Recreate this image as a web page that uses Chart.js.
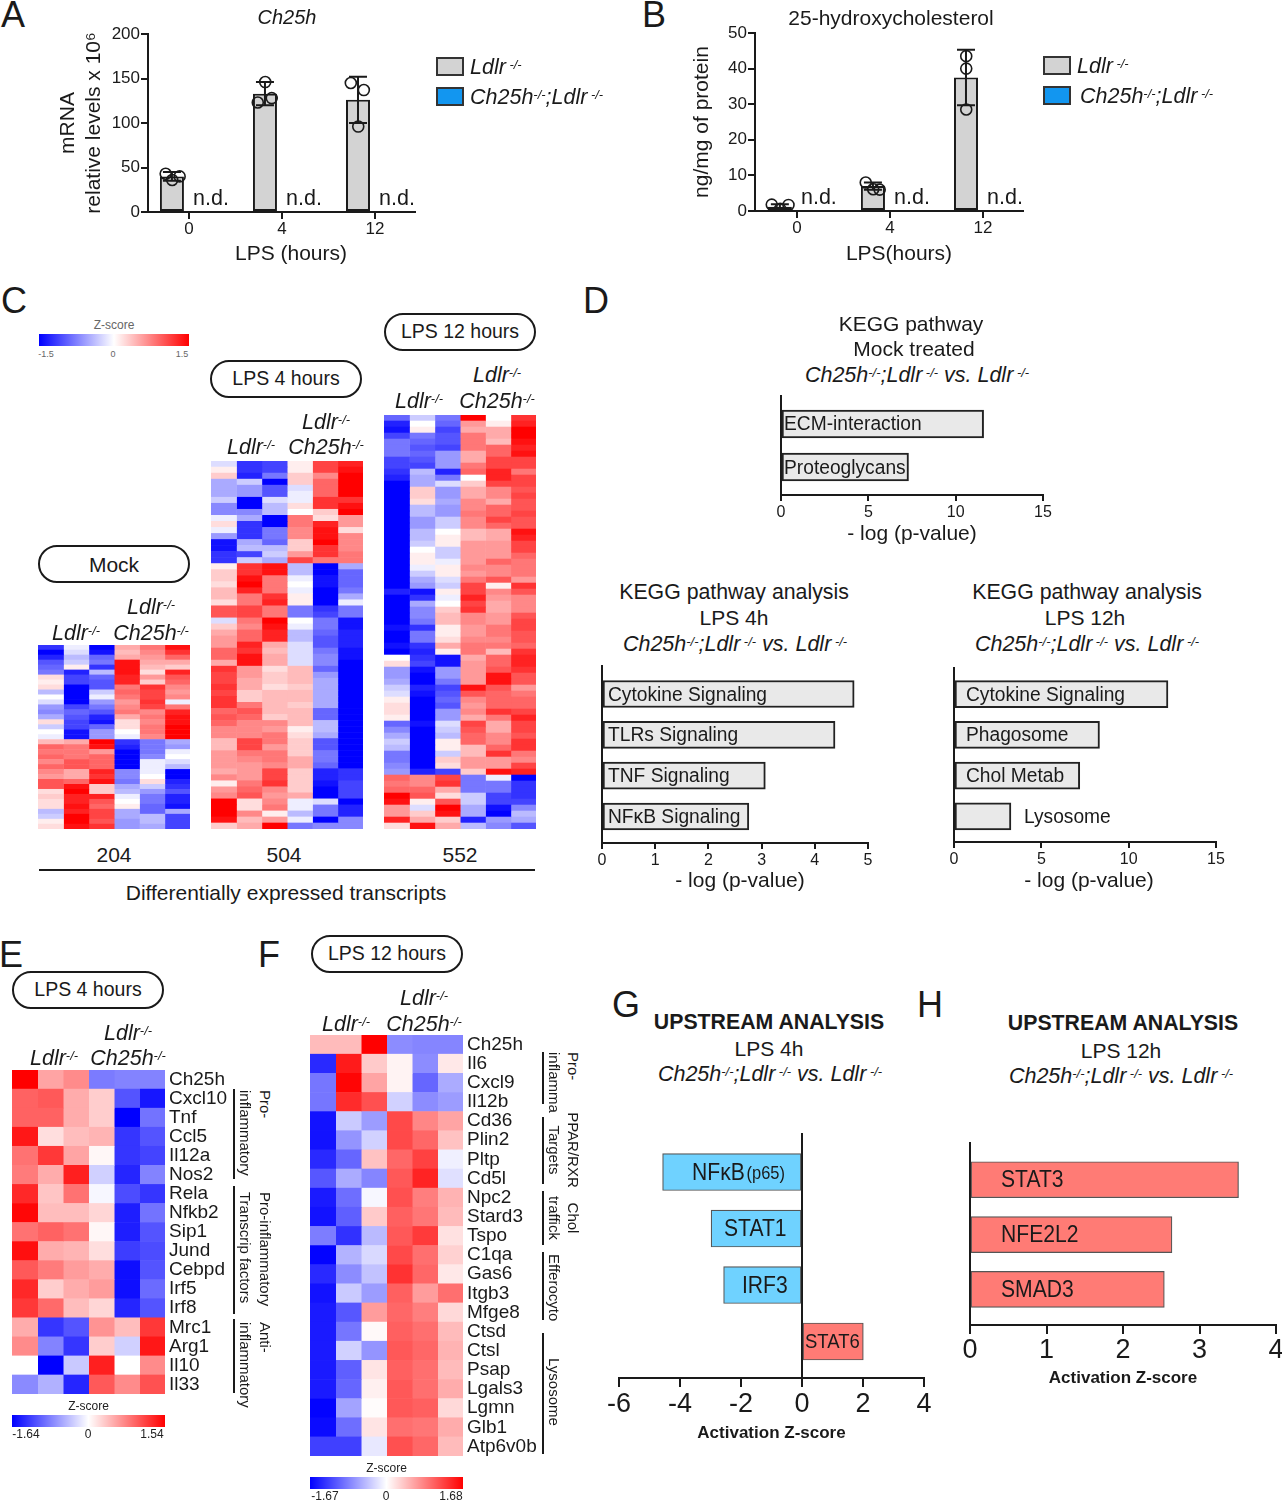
<!DOCTYPE html>
<html><head><meta charset="utf-8">
<script src="https://cdn.jsdelivr.net/npm/chart.js@4"></script>
<style>
html,body{margin:0;padding:0;background:#fff}
#page{position:relative;width:1282px;height:1500px;overflow:hidden;background:#fff;font-family:"Liberation Sans",Arial,sans-serif;color:#1a1a1a}
#page canvas{position:absolute}
.t{position:absolute;white-space:nowrap;line-height:1;transform:translate(-50%,-50%)}
.t i{position:relative;top:2px}
.l{transform:translate(0,-50%)}
.v{position:absolute;white-space:nowrap;line-height:1;writing-mode:vertical-rl;transform:translateX(-50%)}
.vc{transform:translate(-50%,-50%)}
.s{font-size:.6em;vertical-align:.42em;font-style:italic;line-height:0}
.pill{position:absolute;box-sizing:border-box;border:2px solid #1a1a1a;border-radius:20px;width:152px;height:38px}
.box{position:absolute;box-sizing:border-box;border:2px solid #333}
.rule{position:absolute;background:#1a1a1a}
</style></head><body><div id="page"></div>
<script>
/* ---------- panel A / B ---------- */
const timeLabels=['0','4','12'];
const seriesNames=['Ldlr -/-','Ch25h-/-;Ldlr -/-'];
const chMean=[40,133,126];
const chSd=[5,13,26];
const chNd=[0,0,0];
const chDotsX=[-0.25,-0.1,-0.18,0.82,0.74,0.89,1.74,1.88,1.82];
const chDotsY=[43,40,36,146,123,128,145,137,96];
const ohcMean=[1.2,7,37.5];
const ohcSd=[0.7,1,7.8];
const ohcNd=[0,0,0];
const ohcDotsX=[-0.27,-0.09,-0.18,0.74,0.82,0.89,1.82,1.82,1.82];
const ohcDotsY=[1.8,1.7,0.6,8,6.1,6,43.5,40,28.5];
/* ---------- panel C (z-score x 10, one row per band, columns = 3 Ldlr, 3 Ldlr;Ch25h) ---------- */
const mockRows=[[-12,-1,-15,5,8,14],[-15,-2,-14,4,7,12],[-13,-4,-9,5,6,9],[-10,-3,-8,14,5,5],[-9,1,-12,14,4,3],[-8,-13,-4,14,2,13],[2,-11,-9,13,6,10],[1,-11,-10,13,3,9],[2,-15,-10,8,12,7],[-4,-15,-3,9,11,6],[0,-15,-1,8,11,7],[-2,-15,-6,6,12,-1],[-6,-11,-8,7,11,8],[-7,-9,-10,8,7,13],[-5,-10,-13,5,8,14],[2,-11,-14,2,7,14],[-3,-11,-9,2,8,15],[0,-14,-6,0,8,15],[-1,-14,-6,-1,7,15],[4,5,15,-12,-8,-5],[9,8,14,-13,-8,-6],[8,8,6,-15,-8,-1],[9,8,9,-15,-7,0],[7,10,9,-15,-1,-2],[9,10,9,-15,-1,-4],[7,5,13,-7,-1,-15],[6,5,12,-7,0,-15],[10,9,14,-8,2,-13],[10,14,3,-5,-3,-12],[2,15,3,-4,-6,-10],[3,13,13,-1,-8,-13],[2,13,10,0,-8,-13],[2,14,9,1,-9,-14],[-4,13,11,-5,-9,-5],[-3,15,11,-5,-4,-11],[1,15,10,-6,-4,-11],[2,14,12,-6,-5,-11]];
const lps4Rows=[[-2,-12,-11,1,11,13],[1,-12,-11,1,11,14],[3,-13,-8,3,7,15],[-5,-3,-15,3,9,15],[-5,-6,-10,-2,9,15],[-5,-6,-10,-1,9,15],[-3,-15,-2,-1,12,12],[-7,-15,-4,2,12,14],[-7,-7,-4,0,3,15],[-1,-5,-15,8,2,6],[2,-12,-15,8,13,6],[-1,-12,-8,7,14,2],[-6,-12,-8,7,14,7],[-14,-5,-9,3,15,7],[-14,-4,-4,3,12,7],[-12,-11,-3,6,12,8],[-12,-3,-5,11,8,8],[1,12,14,-4,-15,-5],[3,12,14,-4,-15,-9],[3,14,8,-1,-14,-9],[2,15,8,0,-14,-9],[4,13,8,-1,-15,-8],[4,8,12,1,-15,-5],[2,8,13,1,-15,-1],[10,11,8,-8,-12,-8],[10,11,8,-8,-11,-8],[-2,8,15,0,-8,-14],[3,7,14,-1,-8,-14],[5,9,13,-4,-9,-13],[6,9,13,-4,-10,-13],[6,13,5,-2,-10,-13],[9,12,4,-2,-8,-14],[9,14,5,-2,-7,-14],[5,14,5,-2,-7,-15],[12,6,2,4,-9,-15],[11,6,3,4,-6,-15],[11,5,3,4,-5,-15],[12,5,2,3,-5,-15],[11,3,4,4,-5,-15],[12,3,4,4,-5,-15],[12,8,4,3,-5,-15],[9,10,4,4,-9,-15],[10,9,3,4,-9,-15],[9,7,7,4,-4,-15],[7,7,6,1,-4,-15],[7,7,8,2,-5,-15],[4,11,8,3,-10,-15],[4,11,6,3,-10,-15],[6,8,8,3,-8,-15],[6,7,8,5,-8,-15],[6,6,7,5,-9,-15],[5,6,11,3,-13,-12],[7,6,11,3,-13,-12],[1,8,12,3,-14,-11],[6,9,7,3,-15,-11],[7,10,6,5,-15,-11],[15,2,7,-1,-2,-15],[15,2,8,-1,-8,-13],[15,7,1,-4,-8,-13],[14,4,6,-1,-15,-7],[3,5,15,-8,-7,-7]];
const lps12Rows=[[-9,-3,-8,15,0,12],[-13,0,-9,6,1,13],[-14,1,-11,5,5,15],[-11,-8,-10,8,5,15],[-8,-9,-10,8,4,14],[-8,-10,-11,8,9,13],[-8,-9,-6,5,9,14],[-11,-10,-6,5,11,11],[-11,-11,-6,8,11,11],[-12,-4,-13,9,13,8],[-13,-5,-8,0,13,11],[-15,-5,-2,3,11,11],[-15,3,-6,5,7,10],[-15,3,-6,5,7,11],[-15,2,-5,7,5,10],[-15,-4,-6,7,9,10],[-15,-4,-6,8,9,11],[-15,-6,-3,7,11,10],[-15,-6,-3,7,9,10],[-15,-4,0,4,5,14],[-15,-4,1,4,5,13],[-15,-3,1,6,6,11],[-15,0,-3,6,6,11],[-15,1,-3,6,6,9],[-15,1,-1,6,9,8],[-15,-1,1,7,7,8],[-15,-3,1,6,7,8],[-15,-5,-2,8,10,6],[-15,-6,-3,11,1,12],[-13,-14,1,11,7,10],[-15,-12,-1,13,6,7],[-15,-5,0,11,5,7],[-15,-7,3,12,5,7],[-15,-7,4,7,6,10],[-15,-8,4,7,6,11],[-14,-12,1,6,8,11],[-15,-8,1,6,8,10],[-15,-8,2,7,7,10],[-14,-12,5,8,8,9],[-15,-13,1,8,4,12],[0,-12,-14,5,9,13],[2,-11,-14,6,9,13],[-6,-14,-6,6,10,12],[-6,-15,-6,6,14,10],[-5,-15,-8,6,14,10],[-3,-13,-11,14,10,6],[-2,-14,-10,10,9,8],[1,-15,-9,7,9,9],[2,-15,-10,6,9,9],[2,-15,-6,7,12,11],[1,-15,-6,5,8,13],[-9,-14,-2,11,5,11],[-7,-15,-3,10,5,11],[-5,-15,-4,9,7,10],[-3,-15,1,9,7,12],[-4,-15,1,4,9,12],[-8,-15,-3,4,12,8],[-8,-15,3,6,6,7],[-7,-15,2,6,6,11],[-6,-13,-11,3,14,13],[9,7,11,-8,-1,-15],[8,7,12,-8,-8,-12],[9,9,5,-8,-8,-12],[15,10,2,-3,-11,-12],[14,1,10,-3,-11,-11],[6,-2,15,-5,-14,-7],[6,3,14,-5,-15,-4],[13,5,3,-13,-6,-5],[2,14,5,-4,-7,-10]];
/* ---------- panel D ---------- */
const keggMockLabels=['ECM-interaction','Proteoglycans'];
const keggMockValues=[11.6,7.3];
const kegg4Labels=['Cytokine Signaling','TLRs Signaling','TNF Signaling','NFκB Signaling'];
const kegg4Values=[4.74,4.38,3.07,2.76];
const kegg12Labels=['Cytokine Signaling','Phagosome','Chol Metab','Lysosome'];
const kegg12Values=[12.25,8.33,7.2,3.26];
/* ---------- panel E ---------- */
const genesE=['Ch25h','Cxcl10','Tnf','Ccl5','Il12a','Nos2','Rela','Nfkb2','Sip1','Jund','Cebpd','Irf5','Irf8','Mrc1','Arg1','Il10','Il33'];
const heatE=[[1.54,.55,.7,-.85,-.8,-.8],[.95,1,.5,.3,-1.1,-1.5],[.95,.95,.5,.3,-1.64,-.9],[1.4,.2,.4,.45,-1.3,-1.1],[.85,1.2,.55,.05,-1.3,-1.2],[.8,.5,1.35,-.3,-1.4,-.8],[1.3,.35,.85,-.05,-1.15,-1.3],[1.5,.4,.4,.25,-1.45,-.9],[.85,.95,.85,.05,-1.45,-1.1],[1.45,.5,.45,.2,-1.25,-1.15],[1,.8,.6,.5,-1.55,-1.1],[1.3,.3,.5,.6,-1.55,-.95],[1.2,.9,.4,.25,-1.4,-1.1],[.5,-1.3,-1.1,.65,.4,1.2],[.7,-.8,-1.3,.3,-.3,1.4],[0,-1.64,-.35,1.35,0,.7],[-.75,-.5,-1.4,1,.7,1.05]];
/* ---------- panel F ---------- */
const genesF=['Ch25h','Il6','Cxcl9','Il12b','Cd36','Plin2','Pltp','Cd5l','Npc2','Stard3','Tspo','C1qa','Gas6','Itgb3','Mfge8','Ctsd','Ctsl','Psap','Lgals3','Lgmn','Glb1','Atp6v0b'];
const heatF=[[.45,.45,1.68,-.75,-.8,-.8],[-1.4,1.5,.35,.08,-.75,.15],[-.9,1.65,.6,.08,-1,-.55],[-.9,1.4,1.15,-.3,-.75,-.65],[-1.55,-.35,-.65,1.2,.8,.6],[-1.55,-.7,-.3,1.2,1,.4],[-1.4,-1,.4,1,1.25,-.1],[-1.1,-.55,-.8,1.1,1.45,-.2],[-1.5,-.95,-.05,1.15,.85,.5],[-1.55,-1.05,.35,1.05,.9,.45],[-.85,-1.35,-.45,1.1,1.3,.2],[-1.65,-.5,-.25,1.2,.95,.3],[-1.4,-.75,-.4,1.35,1,.15],[-1.55,-.35,-.65,1.05,.65,.95],[-1.5,-1.1,.65,1,.85,.25],[-1.5,-.9,.04,1.05,.95,.45],[-1.5,-.3,-.7,1.1,1,.5],[-1.5,-1.05,.18,1.05,.95,.45],[-1.5,-1,.1,1.1,.95,.55],[-1.65,-.6,.02,1.1,1.05,.25],[-1.6,-.95,.18,.95,.9,.55],[-1.25,-1.25,-.15,1.15,1,.45]];
/* ---------- panels G / H ---------- */
const upstream4Labels=['NFκB|(p65)','STAT1','IRF3','STAT6'];
const upstream4Values=[-4.57,-2.98,-2.57,2.01];
const upstream12Labels=['STAT3','NFE2L2','SMAD3'];
const upstream12Values=[3.51,2.64,2.54];

const FONT='"Liberation Sans",Arial,sans-serif';
const INK='#1a1a1a';
const page=document.getElementById('page');
Chart.defaults.font.family=FONT;
Chart.defaults.color=INK;
Chart.defaults.animation=false;

function txt(x,y,html,size,o={}){
  const d=document.createElement('div');
  d.className='t'+(o.left?' l':'');
  d.style.cssText+=`left:${x}px;top:${y}px;font-size:${size}px;`+(o.bold?'font-weight:bold;':'')+(o.italic?'font-style:italic;':'')+(o.color?`color:${o.color};`:'');
  d.innerHTML=html;page.appendChild(d);return d;
}
function vtxt(x,y,html,size,center){
  const d=document.createElement('div');
  d.className='v'+(center?' vc':'');
  d.style.cssText+=`left:${x}px;top:${y}px;font-size:${size}px;`;
  d.textContent=html;page.appendChild(d);
}
function rule(x,y,w,h){const d=document.createElement('div');d.className='rule';d.style.cssText+=`left:${x}px;top:${y}px;width:${w}px;height:${h}px;`;page.appendChild(d);}
function pill(x,y,label,size){const d=document.createElement('div');d.className='pill';d.style.cssText+=`left:${x}px;top:${y}px;`;page.appendChild(d);txt(x+76,y+19,label,size||19.5);}
function canvasFor(r,p){
  const c=document.createElement('canvas');
  const w=r.r-r.l+p.l+p.r,h=r.b-r.t+p.t+p.b;
  c.width=w;c.height=h;c.style.cssText=`left:${r.l-p.l}px;top:${r.t-p.t}px;width:${w}px;height:${h}px;`;
  page.appendChild(c);return c;
}
const LDLR='<i>Ldlr<span class="s"> -/-</span></i>';
const CHDL='<i>Ch25h<span class="s">-/-</span>;Ldlr<span class="s"> -/-</span></i>';
const VS='<i>Ch25h<span class="s">-/-</span>;Ldlr<span class="s"> -/-</span> vs. Ldlr<span class="s"> -/-</span></i>';
const LD='<i>Ldlr<span class="s">-/-</span></i>';
const CH='<i>Ch25h<span class="s">-/-</span></i>';

/* vertical bar panels A, B */
function groupPanel(r,cfg){
  const pad={l:cfg.padL,t:12,r:40,b:60};
  const cv=canvasFor(r,pad);
  const lh=cfg.yLh;
  const errors={id:'err',afterDatasetsDraw(ch){
    const m=ch.getDatasetMeta(0),y=ch.scales.y,c=ch.ctx;c.save();c.strokeStyle=INK;c.lineWidth=2;
    cfg.mean.forEach((v,i)=>{const x=m.data[i].x,a=y.getPixelForValue(v+cfg.sd[i]),b=y.getPixelForValue(Math.max(v-cfg.sd[i],0));
      c.beginPath();c.moveTo(x,a);c.lineTo(x,b);c.moveTo(x-9,a);c.lineTo(x+9,a);c.moveTo(x-9,b);c.lineTo(x+9,b);c.stroke();});
    const n=ch.getDatasetMeta(1);c.fillStyle=INK;c.font='21.5px '+FONT;c.textAlign='center';c.textBaseline='middle';
    cfg.nd.forEach((v,i)=>{c.fillText('n.d.',n.data[i].x+5,y.getPixelForValue(v)-13);});
    c.restore();}};
  new Chart(cv,{type:'bar',data:{datasets:[
    {label:seriesNames[0],data:cfg.mean.map((v,i)=>({x:i,y:v})),backgroundColor:'#d3d3d3',borderColor:INK,borderWidth:2,borderSkipped:false,categoryPercentage:.731,barPercentage:.706,order:2},
    {label:seriesNames[1],data:cfg.nd.map((v,i)=>({x:i,y:v})),backgroundColor:'#1296f0',borderWidth:0,categoryPercentage:.731,barPercentage:.706,order:2},
    {type:'scatter',label:'replicates',data:cfg.dotsX.map((x,i)=>({x,y:cfg.dotsY[i]})),pointRadius:5.5,pointBorderWidth:1.6,pointBorderColor:INK,pointBackgroundColor:'rgba(0,0,0,0)',order:1}
  ]},plugins:[errors],options:{responsive:false,layout:{padding:{top:pad.t,right:pad.r}},plugins:{legend:{display:false},tooltip:{enabled:false}},
    scales:{
      x:{type:'linear',offset:false,min:cfg.xMin,max:cfg.xMax,afterFit:s=>{s.height=pad.b},grid:{offset:false,drawOnChartArea:false,tickLength:7,color:INK,lineWidth:2},border:{color:INK,width:2},
        ticks:{stepSize:1,includeBounds:false,padding:0,font:{size:17},color:INK,callback:v=>timeLabels[v]}},
      y:{min:0,max:cfg.yMax,afterFit:s=>{s.width=pad.l},grid:{drawOnChartArea:false,tickLength:7,color:INK,lineWidth:2},border:{color:INK,width:2},
        ticks:{stepSize:cfg.yStep,padding:1,font:{size:17},color:INK},
        title:{display:true,text:cfg.yTitle,font:{size:21,lineHeight:lh/21},padding:{top:cfg.yTitleX-(r.l-pad.l)-lh/2,bottom:0},color:INK}}
    }}});
  txt(cfg.xTitleX,252,cfg.xTitle,21);
}
groupPanel({l:148,t:34,r:415,b:212},{padL:100,yLh:26,yTitleX:68,mean:chMean,sd:chSd,nd:chNd,dotsX:chDotsX,dotsY:chDotsY,xMin:-0.44,xMax:2.43,yMax:200,yStep:50,xTitle:'LPS (hours)',xTitleX:291,yTitle:['mRNA','relative levels x 10⁶']});
groupPanel({l:755,t:33,r:1023,b:211},{padL:80,yLh:26,yTitleX:702,mean:ohcMean,sd:ohcSd,nd:ohcNd,dotsX:ohcDotsX,dotsY:ohcDotsY,xMin:-0.45,xMax:2.43,yMax:50,yStep:10,xTitle:'LPS(hours)',xTitleX:899,yTitle:'ng/mg of protein'});

/* heat maps */
function zColor(z,lo,hi){
  const t=z<0?Math.min(z/lo,1):Math.min(z/hi,1),k=Math.round(255*(1-t));
  return z<0?`rgb(${k},${k},255)`:`rgb(255,${k},${k})`;
}
function heat(r,rows,lo,hi,names,overlap){
  const labels=names||rows.map((_,i)=>String(i+1));
  const pad={l:2,t:names?30:2,r:names?90:2,b:names?30:2};
  const cv=canvasFor(r,pad);
  const datasets=rows[0].map((_,c)=>({label:'col'+(c+1),data:rows.map(()=>[c,c+1.02]),backgroundColor:rows.map(row=>zColor(row[c],lo,hi)),borderWidth:0,grouped:false,barPercentage:overlap,categoryPercentage:1}));
  const y={type:'category',position:'right',display:!!names,grid:{display:false,drawTicks:false,tickLength:0},border:{display:false},ticks:{autoSkip:false,padding:4,font:{size:19},color:INK}};
  if(names)y.afterFit=s=>{s.width=pad.r};
  new Chart(cv,{type:'bar',data:{labels,datasets},options:{indexAxis:'y',responsive:false,layout:{padding:{left:pad.l,top:pad.t,bottom:pad.b,right:names?0:pad.r}},plugins:{legend:{display:false},tooltip:{enabled:false}},
    scales:{x:{type:'linear',min:0,max:6,display:false},y}}});
}
heat({l:38,t:645,r:190,b:829},mockRows,-15,15,null,1.1);
heat({l:211,t:461,r:363,b:829},lps4Rows,-15,15,null,1.1);
heat({l:384,t:415,r:536,b:829},lps12Rows,-15,15,null,1.1);
heat({l:12,t:1070,r:165,b:1394},heatE,-1.64,1.54,genesE,1.03);
heat({l:310,t:1035,r:463,b:1456},heatF,-1.67,1.68,genesF,1.03);

/* horizontal bar panels D, G, H */
function hbar(r,cfg){
  const pad={l:30,t:6,r:30,b:cfg.padB||60};
  const cv=canvasFor(r,pad);
  const cl=r.l-pad.l;
  const names={id:'names',afterDatasetsDraw(ch){
    const m=ch.getDatasetMeta(0),c=ch.ctx;c.save();c.fillStyle=INK;c.textBaseline='middle';c.textAlign='left';
    cfg.labels.forEach((lab,i)=>{const [a,b]=lab.split('|');const x=cfg.labelX[i]-cl,y=m.data[i].y+1;
      const size=cfg.labelSizes?cfg.labelSizes[i]:cfg.labelSize,sx=cfg.labelSx||1;
      c.save();c.translate(x,y);c.scale(sx,1);
      c.font=size+'px '+FONT;c.fillText(a,0,0);
      if(b){const w=c.measureText(a).width;c.font=(size*0.78)+'px '+FONT;c.fillText(b,w+2,1);}
      c.restore();});
    c.restore();}};
  const yScale={type:'linear',offset:false,min:cfg.yMin,max:cfg.yMax,reverse:true,grid:{display:false,offset:false},border:{color:INK,width:2},ticks:{display:false}};
  if(cfg.cross!==undefined){yScale.position={x:cfg.cross};}else{yScale.afterFit=s=>{s.width=pad.l};}
  const xTitle=cfg.xTitleX?{display:false}:{display:true,text:cfg.xTitle,font:{size:cfg.titleSize||21,weight:cfg.titleWeight||'normal',lineHeight:1.2},padding:{top:0,bottom:(r.b+pad.b)-cfg.titleY-(cfg.titleSize||21)*.6},color:INK};
  new Chart(cv,{type:'bar',data:{datasets:[{label:cfg.series,data:cfg.values.map((v,i)=>({x:v,y:i})),backgroundColor:cfg.colors,borderColor:cfg.border,borderWidth:cfg.bw,borderSkipped:false,barThickness:cfg.thick}]},plugins:[names],
    options:{indexAxis:'y',responsive:false,layout:{padding:{top:pad.t,right:pad.r,left:cfg.cross!==undefined?pad.l:0}},plugins:{legend:{display:false},tooltip:{enabled:false}},
    scales:{x:{type:'linear',min:cfg.xMin,max:cfg.xMax,afterFit:s=>{s.height=pad.b},grid:{drawOnChartArea:false,tickLength:cfg.tickLen||6,color:INK,lineWidth:2},border:{color:INK,width:2},
        ticks:{stepSize:cfg.step,padding:cfg.tickPad===undefined?2:cfg.tickPad,font:{size:cfg.tickSize||16},color:INK},title:xTitle},
      y:yScale}}});
  if(cfg.xTitleX)txt(cfg.xTitleX,cfg.titleY,cfg.xTitle,21);
}
const GREY='#e9e9e9';
hbar({l:781,t:396,r:1043,b:495},{labels:keggMockLabels,values:keggMockValues,series:'KEGG Mock',colors:GREY,border:'#222',bw:2,thick:28,xMin:0,xMax:15,step:5,yMin:-.65,yMax:1.65,labelX:[784,784],labelSize:20,labelSx:.96,xTitle:'- log (p-value)',titleY:534});
hbar({l:602,t:666,r:868,b:843},{labels:kegg4Labels,values:kegg4Values,series:'KEGG LPS 4h',colors:GREY,border:'#222',bw:2,thick:27,xMin:0,xMax:5,step:1,yMin:-.686,yMax:3.65,labelX:[608,608,608,608],labelSize:20,labelSx:.96,xTitle:'- log (p-value)',xTitleX:740,titleY:879});
hbar({l:954,t:668,r:1216,b:842},{labels:kegg12Labels,values:kegg12Values,series:'KEGG LPS 12h',colors:GREY,border:'#222',bw:2,thick:27,xMin:0,xMax:15,step:5,yMin:-.64,yMax:3.63,labelX:[966,966,966,1024],labelSize:20,labelSx:.96,xTitle:'- log (p-value)',xTitleX:1089,titleY:879});
hbar({l:619,t:1134,r:924,b:1378},{labels:upstream4Labels,values:upstream4Values,series:'Upstream LPS 4h',colors:['#6fd2ff','#6fd2ff','#6fd2ff','#ff7b75'],border:'#555',bw:1.2,thick:37,xMin:-6,xMax:4,step:2,yMin:-.673,yMax:3.646,cross:0,labelX:[692,724,742,805],labelSize:24,labelSizes:[24,24,24,21],labelSx:.88,tickSize:27,tickLen:9,tickPad:1,xTitle:'Activation Z-score',titleSize:17,titleWeight:'bold',titleY:1433,padB:70});
hbar({l:970,t:1143,r:1276,b:1325},{labels:upstream12Labels,values:upstream12Values,series:'Upstream LPS 12h',colors:'#ff7b75',border:'#555',bw:1.2,thick:36,xMin:0,xMax:4,step:1,yMin:-.67,yMax:2.65,labelX:[1001,1001,1001],labelSize:24,labelSx:.88,tickSize:27,tickLen:9,tickPad:0,xTitle:'Activation Z-score',titleSize:17,titleWeight:'bold',titleY:1378,padB:70});

/* panel letters */
[['A',13,15],['B',654,15],['C',14,301],['D',596,301],['E',11,955],['F',269,955],['G',626,1005],['H',930,1005]].forEach(a=>txt(a[1],a[2],a[0],36));
/* A, B titles & legends */
txt(287,17,'Ch25h',20,{italic:true});
txt(891,17,'25-hydroxycholesterol',21);
function legend(x,y1,y2,t1,t2){
  [[y1,'#d3d3d3',t1],[y2,'#1296f0',t2]].forEach(([y,col,tx])=>{const b=document.createElement('div');b.className='box';b.style.cssText+=`left:${x}px;top:${y}px;width:28px;height:19px;background:${col};`;page.appendChild(b);txt(x+tx,y+9,y===y1?LDLR:CHDL,21.5,{left:true});});
}
legend(436,57,87,34,34);legend(1043,56,86,34,37);
/* C annotations */
function zbar(x,y,w,h,cap,capY,capSize,labs,labY,labSize,col){
  const d=document.createElement('div');d.style.cssText=`position:absolute;left:${x}px;top:${y}px;width:${w}px;height:${h}px;background:linear-gradient(to right,#00f,#fff 50%,#f00);`;page.appendChild(d);
  txt(x+w/2,capY,cap,capSize,{color:col});labs.forEach(l=>txt(l[0],labY,l[1],labSize,{color:col}));
}
zbar(39,334,150,12,'Z-score',325,12,[[46,'-1.5'],[113,'0'],[182,'1.5']],354,9,'#666');
pill(38,545,'Mock',21);pill(210,360,'LPS 4 hours');pill(384,313,'LPS 12 hours');
function heads(a,b,y1,y2){txt(a,y2,LD,21.5);txt(b,y1,LD,21.5);txt(b,y2,CH,21.5);}
heads(76,151,606,632);heads(251,326,421,446);heads(419,497,374,400);
txt(114,854,'204',21);txt(284,854,'504',21);txt(460,854,'552',21);
rule(39,869,496,2);
txt(286,892,'Differentially expressed transcripts',21);
/* D titles */
txt(911,323,'KEGG pathway',21);txt(914,348,'Mock treated',21);txt(917,374,VS,21.5);
txt(734,593,'KEGG pathway analysis',21.3);txt(734,617,'LPS 4h',21);txt(735,643,VS,21.5);
txt(1087,593,'KEGG pathway analysis',21.3);txt(1085,617,'LPS 12h',21);txt(1087,643,VS,21.5);
/* E annotations */
pill(12,971,'LPS 4 hours');heads(54,128,1032,1057);
rule(233,1089,2,90);rule(233,1186,2,128);rule(233,1319,2,74);
vtxt(265,1090,'Pro-',15);vtxt(245,1090,'inflammatory',15);
vtxt(265,1192,'Pro-inflammatory',15);vtxt(245,1192,'Transcrip factors',15);
vtxt(265,1322,'Anti-',15);vtxt(245,1322,'inflammatory',15);
zbar(12,1415,153,12,'Z-score',1406,12,[[26,'-1.64'],[88,'0'],[152,'1.54']],1434,12,'#222');
/* F annotations */
pill(311,935,'LPS 12 hours');heads(346,424,997,1023);
rule(542,1052,2,52);rule(542,1117,2,67);rule(542,1191,2,54);rule(542,1252,2,68);rule(542,1333,2,121);
vtxt(573,1052,'Pro-',15);vtxt(554,1052,'inflamma',15);
vtxt(573,1150,'PPAR/RXR',15,true);vtxt(554,1150,'Targets',15,true);
vtxt(573,1218,'Chol',15,true);vtxt(554,1218,'traffick',15,true);
vtxt(554,1254,'Efferocyto',15);vtxt(554,1358,'Lysosome',15);
zbar(310,1477,153,12,'Z-score',1468,12,[[325,'-1.67'],[386,'0'],[451,'1.68']],1496,12,'#222');
/* G, H titles */
txt(769,1023,'UPSTREAM ANALYSIS',21.3,{bold:true});txt(769,1048,'LPS 4h',21);txt(770,1073,VS,21.5);
txt(1123,1024,'UPSTREAM ANALYSIS',21.3,{bold:true});txt(1121,1050,'LPS 12h',21);txt(1121,1075,VS,21.5);
</script></body></html>
